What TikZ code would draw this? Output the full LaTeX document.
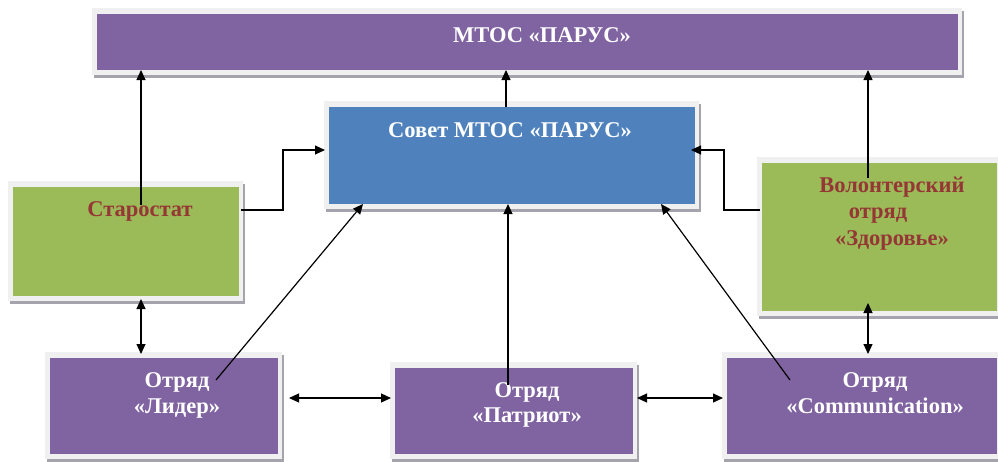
\documentclass[tikz,border=0pt]{standalone}
\usepackage{fontspec}
\setmainfont{Liberation Serif}
\usetikzlibrary{arrows.meta,backgrounds,calc}
\definecolor{purp}{RGB}{128,100,162}
\definecolor{blu}{RGB}{79,129,189}
\definecolor{grn}{RGB}{155,187,89}
\definecolor{redt}{RGB}{149,55,53}
\definecolor{framec}{RGB}{240,240,240}
\definecolor{shadowc}{RGB}{165,163,172}
\tikzset{
  boxbase/.style={inner sep=0pt, outer sep=0pt, anchor=north west},
  purplebox/.style={boxbase, fill=purp},
  bluebox/.style={boxbase, fill=blu},
  greenbox/.style={boxbase, fill=grn},
  lbl/.style={anchor=base, inner sep=0pt, font=\bfseries\fontsize{22.5}{27}\selectfont},
  wlbl/.style={lbl, text=white},
  rlbl/.style={lbl, text=redt},
  arr/.style={-{Triangle[length=10pt,width=9pt]}, line width=1.2pt},
  darr/.style={{Triangle[length=10pt,width=9pt]}-{Triangle[length=10pt,width=9pt]}, line width=1.2pt}
}
\begin{document}
\begin{tikzpicture}[x=1pt,y=-1pt]
\useasboundingbox (0,0) rectangle (998,461);
% boxes
\node[purplebox, minimum width=861pt, minimum height=56pt] (mtos) at (97,14) {};
\node[bluebox, minimum width=366pt, minimum height=97pt] (sovet) at (329,107) {};
\node[greenbox, minimum width=226pt, minimum height=109pt] (star) at (13,187) {};
\node[greenbox, minimum width=235pt, minimum height=148pt] (vol) at (762,163) {};
\node[purplebox, minimum width=228pt, minimum height=96pt] (lider) at (50,358) {};
\node[purplebox, minimum width=238pt, minimum height=86pt] (patr) at (395,368) {};
\node[purplebox, minimum width=270pt, minimum height=96pt] (comm) at (727,358) {};
% frames and shadows
\begin{scope}[on background layer]
\foreach \n in {mtos,sovet,star,vol,lider,patr,comm}{
  \fill[shadowc] ([shift={(-3,-3)}]\n.north west) rectangle ([shift={(6,8)}]\n.south east);
  \fill[framec] ([shift={(-5,-6)}]\n.north west) rectangle ([shift={(4,5)}]\n.south east);
}
\end{scope}
% labels
\node[wlbl] (tm) at (542,42) {МТОС «ПАРУС»};
\node[wlbl] (ts) at (510,137) {Совет МТОС «ПАРУС»};
\node[rlbl] (tst) at (140,216) {Старостат};
\node[rlbl] (tv1) at (892,192) {Волонтерский};
\node[rlbl] (tv2) at (878,218) {отряд};
\node[rlbl] (tv3) at (892,245) {«Здоровье»};
\node[wlbl] (tl1) at (177,387) {Отряд};
\node[wlbl] (tl2) at (177,413) {«Лидер»};
\node[wlbl] (tp1) at (527,397) {Отряд};
\node[wlbl] (tp2) at (527,422) {«Патриот»};
\node[wlbl] (tc1) at (875,387) {Отряд};
\node[wlbl] (tc2) at (875,413) {«Communication»};
% connector start points
\coordinate (s1) at (141,205);
\coordinate (s2) at (506,107);
\coordinate (v1) at (868,178);
\coordinate (s3) at (241,210);
\coordinate (v2) at (760,210);
\coordinate (l1) at (216,380);
\coordinate (p1) at (508,385);
\coordinate (c1) at (790,380);
% connectors
\draw[arr] (s1) -- (s1 |- mtos.south);
\draw[arr] (s2) -- (s2 |- mtos.south);
\draw[arr] (v1) -- (v1 |- mtos.south);
\draw[arr] (s3) -- (283,210) |- ([xshift=-4]sovet.west |- 0,150);
\draw[arr] (v2) -- (724,210) |- ([xshift=-4]sovet.east |- 0,150);
\draw[arr] (l1) -- (sovet.south -| 363,0);
\draw[arr] (p1) -- (p1 |- sovet.south);
\draw[arr] (c1) -- (sovet.south -| 661,0);
\draw[darr] ([yshift=-3]star.south -| 141,0) -- ([yshift=4]lider.north -| 141,0);
\draw[darr] ([yshift=8]vol.south -| 868,0) -- ([yshift=4]lider.north -| 868,0);
\draw[darr] ([xshift=11]lider.east |- 0,398) -- ([xshift=-4]patr.west |- 0,398);
\draw[darr] ([xshift=4]patr.east |- 0,398) -- ([xshift=-4]comm.west |- 0,398);
\end{tikzpicture}
\end{document}
